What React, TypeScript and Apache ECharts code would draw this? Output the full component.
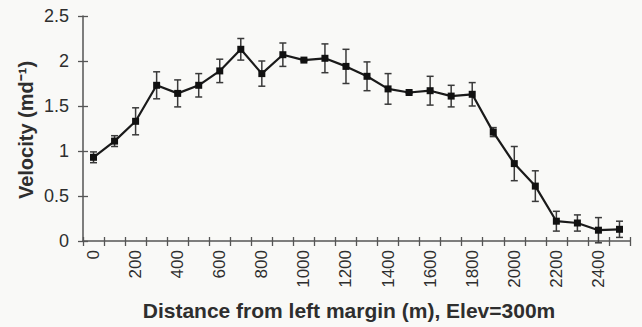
import React, { useEffect, useRef } from "react";
import * as echarts from "echarts";

const distances = ["0", "100", "200", "300", "400", "500", "600", "700", "800", "900", "1000", "1100", "1200", "1300", "1400", "1500", "1600", "1700", "1800", "1900", "2000", "2100", "2200", "2300", "2400", "2500"];
const velocity = [0.93, 1.11, 1.33, 1.73, 1.64, 1.73, 1.89, 2.13, 1.86, 2.07, 2.01, 2.03, 1.94, 1.83, 1.69, 1.65, 1.67, 1.61, 1.63, 1.21, 0.86, 0.61, 0.22, 0.2, 0.12, 0.13];
const errors = [0.06, 0.06, 0.15, 0.15, 0.15, 0.13, 0.13, 0.12, 0.14, 0.13, 0.01, 0.16, 0.19, 0.16, 0.17, 0.01, 0.16, 0.12, 0.13, 0.05, 0.19, 0.17, 0.11, 0.09, 0.14, 0.09];
const yTitle = "Velocity (md\u207B\u00B9)";
const xTitle = "Distance from left margin (m), Elev=300m";

const FONT = '"Liberation Sans", Arial, sans-serif';
const AXIS_COLOR = "#555";
const TEXT_COLOR = "#2e2e2e";

export default function App() {
  const ref = useRef<HTMLDivElement>(null);

  useEffect(() => {
    document.body.style.margin = "0";
    const chart = echarts.init(ref.current!, null, { renderer: "svg" });
    const errData = velocity.map((v, i) => [i, v - errors[i], v + errors[i]]);
    chart.setOption({
      animation: false,
      backgroundColor: "#f9f9f7",
      grid: { left: 83, right: 12, top: 16, bottom: 86 },
      xAxis: [
        {
          type: "category",
          data: distances,
          boundaryGap: true,
          axisLine: { lineStyle: { color: AXIS_COLOR, width: 1.5 } },
          axisTick: { show: true, inside: false, length: 5, interval: 0, lineStyle: { color: AXIS_COLOR, width: 1.3 } },
          axisLabel: { interval: 1, rotate: 90, margin: 9, fontSize: 17, color: TEXT_COLOR, fontFamily: FONT },
          splitLine: { show: false },
        },
        {
          type: "category",
          data: distances,
          boundaryGap: true,
          position: "bottom",
          axisLine: { show: false },
          axisTick: { show: true, inside: true, length: 4, interval: 0, lineStyle: { color: AXIS_COLOR, width: 1.3 } },
          axisLabel: { show: false },
          splitLine: { show: false },
        },
      ],
      yAxis: [
        {
          type: "value",
          min: 0,
          max: 2.5,
          interval: 0.5,
          axisLine: { show: true, lineStyle: { color: AXIS_COLOR, width: 1.5 } },
          axisTick: { show: true, inside: false, length: 5, lineStyle: { color: AXIS_COLOR, width: 1.3 } },
          axisLabel: { margin: 14, fontSize: 18, color: TEXT_COLOR, fontFamily: FONT },
          splitLine: { show: false },
        },
        {
          type: "value",
          min: 0,
          max: 2.5,
          interval: 0.5,
          position: "left",
          axisLine: { show: false },
          axisTick: { show: true, inside: true, length: 5, lineStyle: { color: AXIS_COLOR, width: 1.3 } },
          axisLabel: { show: false },
          splitLine: { show: false },
        },
      ],
      graphic: [
        {
          type: "text",
          x: 26,
          y: 130,
          rotation: Math.PI / 2,
          style: {
            text: yTitle,
            font: `bold 20px ${FONT}`,
            fill: TEXT_COLOR,
            textAlign: "center",
            textVerticalAlign: "middle",
          },
        },
        {
          type: "text",
          x: 349,
          y: 310,
          style: {
            text: xTitle,
            font: `bold 21px ${FONT}`,
            fill: TEXT_COLOR,
            textAlign: "center",
            textVerticalAlign: "middle",
          },
        },
      ],
      series: [
        {
          type: "custom",
          xAxisIndex: 0,
          yAxisIndex: 0,
          data: errData,
          z: 1,
          renderItem: (params: any, api: any) => {
            const x = api.value(0);
            const lo = api.coord([x, api.value(1)]);
            const hi = api.coord([x, api.value(2)]);
            const hw = 3.5;
            const st = { stroke: "#3a3a3a", lineWidth: 1.5 };
            return {
              type: "group",
              children: [
                { type: "line", shape: { x1: lo[0], y1: lo[1], x2: hi[0], y2: hi[1] }, style: st },
                { type: "line", shape: { x1: lo[0] - hw, y1: lo[1], x2: lo[0] + hw, y2: lo[1] }, style: st },
                { type: "line", shape: { x1: hi[0] - hw, y1: hi[1], x2: hi[0] + hw, y2: hi[1] }, style: st },
              ],
            };
          },
        },
        {
          type: "line",
          xAxisIndex: 0,
          yAxisIndex: 0,
          data: velocity,
          z: 2,
          symbol: "rect",
          symbolSize: 7,
          lineStyle: { color: "#1a1a1a", width: 2.2 },
          itemStyle: { color: "#111" },
        },
      ],
    });
    return () => chart.dispose();
  }, []);

  return <div ref={ref} style={{ width: 642, height: 327 }} />;
}
